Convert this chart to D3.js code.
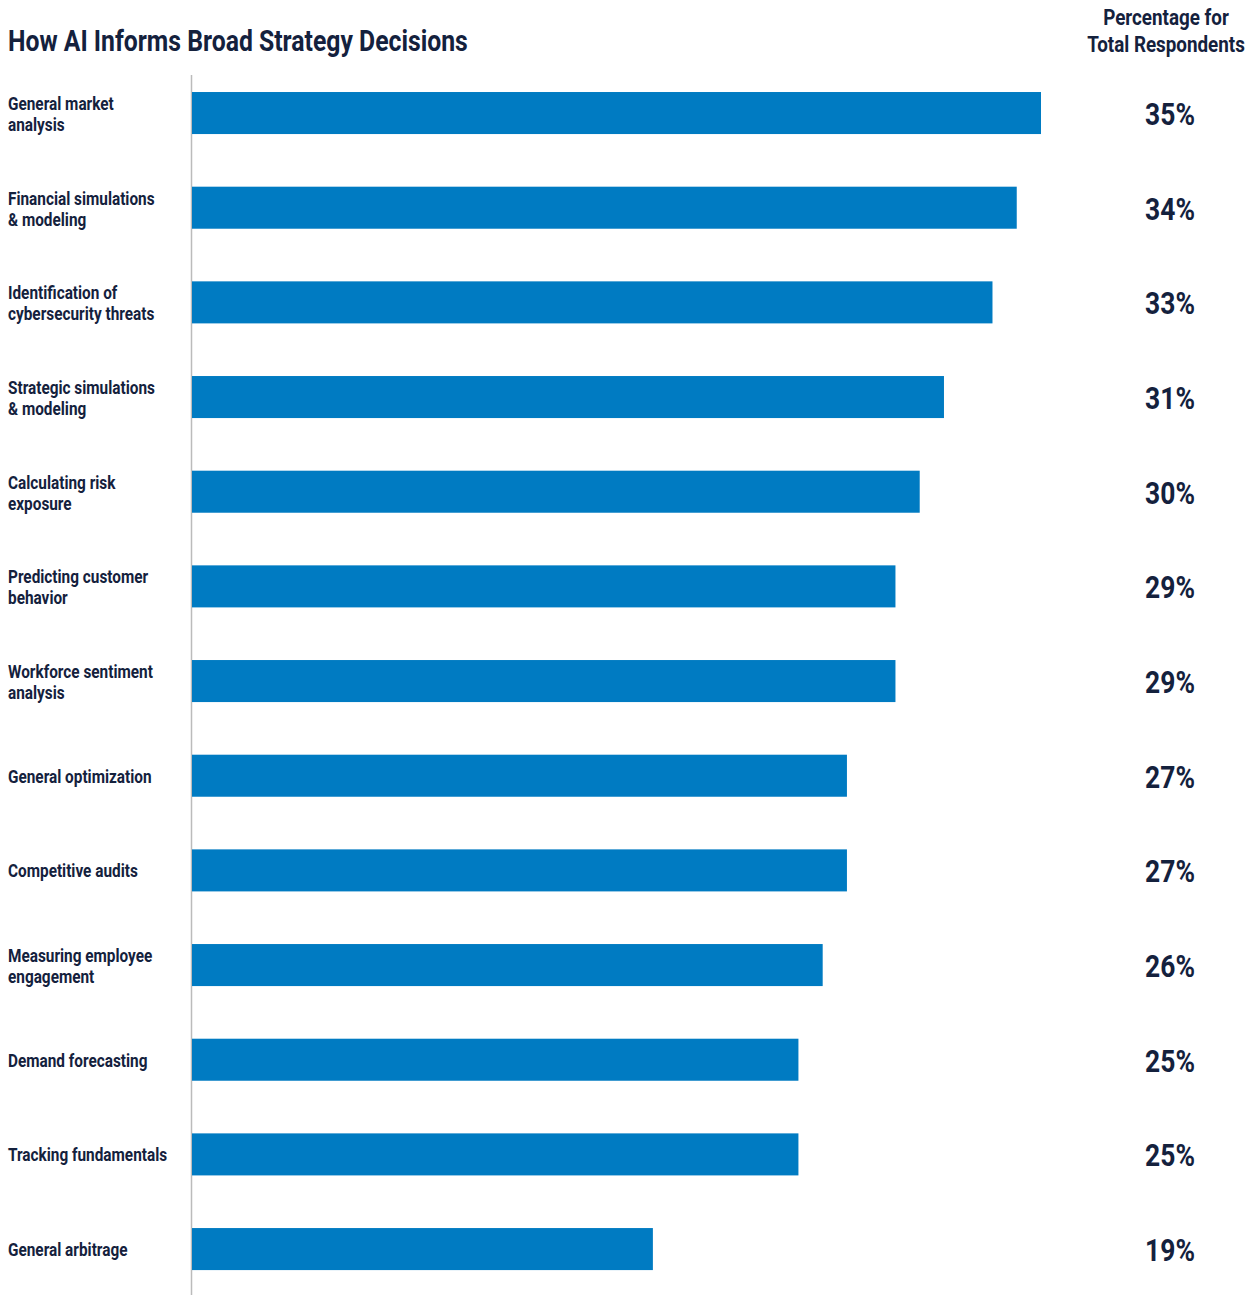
<!DOCTYPE html>
<html>
<head>
<meta charset="utf-8">
<script src="https://cdn.jsdelivr.net/npm/d3@7"></script>
<style>
  body { margin: 0; background: #fff; }
  text { font-family: "Roboto", "Liberation Sans", sans-serif; font-weight: bold; fill: #14213d; }
</style>
</head>
<body>
<div id="chart"></div>
<script>
const categories = [
  ["General market", "analysis"],
  ["Financial simulations", "& modeling"],
  ["Identification of", "cybersecurity threats"],
  ["Strategic simulations", "& modeling"],
  ["Calculating risk", "exposure"],
  ["Predicting customer", "behavior"],
  ["Workforce sentiment", "analysis"],
  ["General optimization"],
  ["Competitive audits"],
  ["Measuring employee", "engagement"],
  ["Demand forecasting"],
  ["Tracking fundamentals"],
  ["General arbitrage"]
];
const values = [35, 34, 33, 31, 30, 29, 29, 27, 27, 26, 25, 25, 19];
const title = "How AI Informs Broad Strategy Decisions";
const header = ["Percentage for", "Total Respondents"];

let width = 1251, height = 1295;
let left = 192;

const svg = d3.select("#chart").append("svg")
    .attr("width", width)
    .attr("height", height);

const x = d3.scaleLinear()
    .domain([0, 35])
    .range([left, 1041]);

const y = d3.scaleBand()
    .domain(d3.range(values.length))
    .range([65.7, 1296.4])
    .paddingInner(0.556)
    .paddingOuter(0.278);

// title, measured to get a condensed squeeze factor for all text
const titleText = svg.append("text")
    .attr("font-size", "30px")
    .text(title);
const k = 460 / titleText.node().getComputedTextLength();
titleText
    .attr("x", 8 / k)
    .attr("y", 51)
    .attr("transform", "scale(" + k + ",1)");

// column header
svg.selectAll(".hdr")
    .data(header)
    .enter()
    .append("text")
    .attr("class", "hdr")
    .attr("transform", "scale(" + k + ",1)")
    .attr("x", 1166 / k)
    .attr("y", (d, i) => 25 + i * 27)
    .attr("text-anchor", "middle")
    .attr("font-size", "22.8px")
    .text(d => d);

// vertical axis line
svg.append("line")
    .attr("x1", left - 0.5).attr("x2", left - 0.5)
    .attr("y1", 75).attr("y2", height)
    .attr("stroke", "#bbbbbb")
    .attr("stroke-width", 1.5);

const rows = svg.selectAll(".row")
    .data(values)
    .enter()
    .append("g")
    .attr("class", "row");

rows.append("rect")
    .attr("x", x(0))
    .attr("y", (d, i) => y(i))
    .attr("width", d => x(d) - x(0))
    .attr("height", y.bandwidth())
    .attr("fill", "#007bc2");

rows.append("text")
    .attr("transform", "scale(" + k + ",1)")
    .attr("x", 1170 / k)
    .attr("y", (d, i) => y(i) + y.bandwidth() / 2 + 12)
    .attr("text-anchor", "middle")
    .attr("font-size", "32px")
    .text(d => d + "%");

// category labels
rows.append("text")
    .attr("transform", "scale(" + k + ",1)")
    .attr("font-size", "18.6px")
    .each(function(d, i) {
        const lines = categories[i];
        const cy = y(i) + y.bandwidth() / 2;
        const t = d3.select(this);
        lines.forEach((ln, j) => {
            t.append("tspan")
                .attr("x", 8 / k)
                .attr("y", lines.length === 1 ? cy + 7 : cy - 3 + j * 21)
                .text(ln);
        });
    });
</script>
</body>
</html>
